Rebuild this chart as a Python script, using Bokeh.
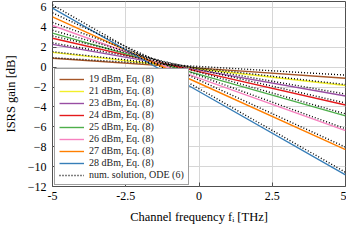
from bokeh.plotting import figure
from bokeh.models import Legend, LegendItem, Range1d, FixedTicker
from bokeh.embed import file_html
from bokeh.resources import INLINE

# channel frequency [THz]
freq = [-5.0, 0.0, 5.0]

powers = ["19", "21", "23", "24", "25", "26", "27", "28"]
colors = ["#a65628", "#f2ef2a", "#984ea3", "#e41a1c", "#4daf4a", "#f781bf", "#ff7f00", "#377eb8"]

# ISRS gain [dB], Eq. (8)
eq8_19 = [0.90, -0.10, -1.11]
eq8_21 = [1.49, -0.18, -1.85]
eq8_23 = [2.29, -0.30, -2.90]
eq8_24 = [2.91, -0.45, -3.81]
eq8_25 = [3.42, -0.72, -4.90]
eq8_26 = [4.19, -1.10, -6.38]
eq8_27 = [5.05, -1.62, -8.29]
eq8_28 = [5.93, -2.45, -10.83]

# ISRS gain [dB], numerical solution ODE (6)
ode_19 = [0.95, 0.07, -0.80]
ode_21 = [1.55, -0.08, -1.75]
ode_23 = [2.44, -0.13, -2.70]
ode_24 = [3.14, -0.23, -3.60]
ode_25 = [3.71, -0.50, -4.70]
ode_26 = [4.50, -0.85, -6.19]
ode_27 = [5.46, -1.30, -8.04]
ode_28 = [6.25, -2.16, -10.57]

eq8 = [eq8_19, eq8_21, eq8_23, eq8_24, eq8_25, eq8_26, eq8_27, eq8_28]
ode = [ode_19, ode_21, ode_23, ode_24, ode_25, ode_26, ode_27, ode_28]

x_ticks = [-5, -2.5, 0, 2.5, 5]
x_tick_labels = {-5: "-5", -2.5: "-2.5", 0: "0", 2.5: "2.5", 5: "5"}
y_ticks = [-12, -10, -8, -6, -4, -2, 0, 2, 4, 6]

FONT = "'Liberation Serif', serif"

p = figure(frame_width=293, frame_height=185, output_backend="svg", toolbar_location=None,
           x_range=Range1d(-5, 5), y_range=Range1d(-12, 6.6),
           min_border_left=40, min_border_right=1, min_border_top=1, min_border_bottom=38)
p.background_fill_color = "white"
p.border_fill_color = "white"
p.outline_line_color = "#505050"
p.outline_line_width = 1

for ax in (p.xaxis, p.yaxis):
    ax.axis_line_color = None
    ax.major_tick_in = 4
    ax.major_tick_out = 0
    ax.major_tick_line_color = "#505050"
    ax.minor_tick_line_color = None
    ax.major_label_text_font = FONT
    ax.major_label_text_font_size = "12px"
    ax.major_label_text_color = "black"
    ax.axis_label_text_font = FONT
    ax.axis_label_text_font_size = "12.5px"
    ax.axis_label_text_font_style = "normal"
    ax.axis_label_text_color = "black"

p.xaxis.ticker = FixedTicker(ticks=x_ticks)
p.xaxis.major_label_overrides = x_tick_labels
p.yaxis.ticker = FixedTicker(ticks=y_ticks)
p.xaxis.major_label_standoff = 5
p.xaxis.axis_label_standoff = 7
p.yaxis.major_label_standoff = 6
p.yaxis.axis_label_standoff = 7
p.xaxis.axis_label = "Channel frequency fᵢ [THz]"
p.yaxis.axis_label = "ISRS gain [dB]"

p.xgrid.ticker = FixedTicker(ticks=x_ticks)
p.ygrid.ticker = FixedTicker(ticks=y_ticks)
p.grid.grid_line_color = "#d6d6d6"
p.grid.grid_line_width = 1

items = []
for pw, col, ys in zip(powers, colors, eq8):
    r = p.line(freq, ys, line_color=col, line_width=1.4)
    items.append(LegendItem(label=f"{pw} dBm, Eq. (8)", renderers=[r]))
dotted = []
for ys in ode:
    r = p.line(freq, ys, line_color="black", line_width=1.4, line_dash="1 2")
    dotted.append(r)
items.append(LegendItem(label="num. solution, ODE (6)", renderers=[dotted[-1]]))

legend = Legend(items=items, location=(2, 1))
legend.label_text_font = FONT
legend.label_text_font_size = "10px"
legend.label_text_color = "#222222"
legend.glyph_width = 25
legend.glyph_height = 10
legend.label_height = 10
legend.label_standoff = 5
legend.spacing = 1
legend.padding = 4
legend.margin = 0
legend.border_line_color = "#404040"
legend.border_line_width = 1
legend.background_fill_color = "white"
legend.background_fill_alpha = 1.0
p.add_layout(legend)

open("out.html", "w").write(file_html(p, INLINE))
